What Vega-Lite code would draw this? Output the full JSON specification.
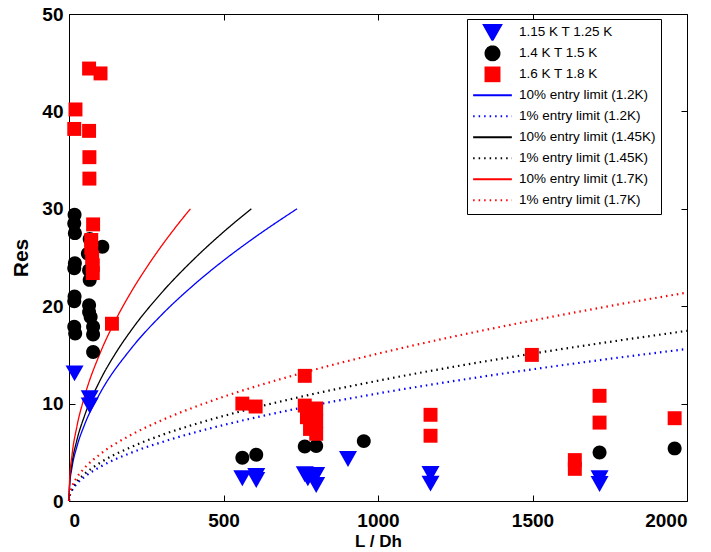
{
  "$schema": "https://vega.github.io/schema/vega-lite/v6.json",
  "width": 618,
  "height": 487,
  "autosize": "none",
  "padding": {"left": 69, "top": 14, "right": 24, "bottom": 51},
  "background": "white",
  "config": {
    "view": {"stroke": "black", "strokeWidth": 1},
    "axis": {
      "domain": false, "grid": false, "tickColor": "black", "tickSize": -6, "tickWidth": 1,
      "labelFont": "Liberation Sans", "labelFontWeight": "bold", "labelFontSize": 19, "labelColor": "black",
      "titleFont": "Liberation Sans", "titleFontWeight": "bold", "titleColor": "black"
    }
  },
  "datasets": {
    "pts": [
      {"series": "1.15 K T 1.25 K", "L": 18, "Res": 13.1},
      {"series": "1.15 K T 1.25 K", "L": 67, "Res": 10.55},
      {"series": "1.15 K T 1.25 K", "L": 67, "Res": 9.8},
      {"series": "1.15 K T 1.25 K", "L": 561, "Res": 2.33},
      {"series": "1.15 K T 1.25 K", "L": 606, "Res": 2.57},
      {"series": "1.15 K T 1.25 K", "L": 606, "Res": 2.16},
      {"series": "1.15 K T 1.25 K", "L": 763, "Res": 2.74},
      {"series": "1.15 K T 1.25 K", "L": 773, "Res": 2.33},
      {"series": "1.15 K T 1.25 K", "L": 800, "Res": 2.67},
      {"series": "1.15 K T 1.25 K", "L": 800, "Res": 1.64},
      {"series": "1.15 K T 1.25 K", "L": 903, "Res": 4.31},
      {"series": "1.15 K T 1.25 K", "L": 1170, "Res": 2.77},
      {"series": "1.15 K T 1.25 K", "L": 1170, "Res": 1.78},
      {"series": "1.15 K T 1.25 K", "L": 1717, "Res": 2.33},
      {"series": "1.15 K T 1.25 K", "L": 1717, "Res": 1.75},
      {"series": "1.4 K T 1.5 K", "L": 18, "Res": 29.4},
      {"series": "1.4 K T 1.5 K", "L": 17, "Res": 28.5},
      {"series": "1.4 K T 1.5 K", "L": 19, "Res": 27.5},
      {"series": "1.4 K T 1.5 K", "L": 19, "Res": 24.4},
      {"series": "1.4 K T 1.5 K", "L": 17, "Res": 23.9},
      {"series": "1.4 K T 1.5 K", "L": 18, "Res": 21.0},
      {"series": "1.4 K T 1.5 K", "L": 17, "Res": 20.5},
      {"series": "1.4 K T 1.5 K", "L": 17, "Res": 17.9},
      {"series": "1.4 K T 1.5 K", "L": 20, "Res": 17.2},
      {"series": "1.4 K T 1.5 K", "L": 67, "Res": 26.9},
      {"series": "1.4 K T 1.5 K", "L": 108, "Res": 26.1},
      {"series": "1.4 K T 1.5 K", "L": 61, "Res": 25.4},
      {"series": "1.4 K T 1.5 K", "L": 65, "Res": 23.7},
      {"series": "1.4 K T 1.5 K", "L": 67, "Res": 22.7},
      {"series": "1.4 K T 1.5 K", "L": 65, "Res": 20.1},
      {"series": "1.4 K T 1.5 K", "L": 65, "Res": 19.4},
      {"series": "1.4 K T 1.5 K", "L": 70, "Res": 18.9},
      {"series": "1.4 K T 1.5 K", "L": 78, "Res": 17.9},
      {"series": "1.4 K T 1.5 K", "L": 78, "Res": 17.1},
      {"series": "1.4 K T 1.5 K", "L": 78, "Res": 15.3},
      {"series": "1.4 K T 1.5 K", "L": 561, "Res": 4.45},
      {"series": "1.4 K T 1.5 K", "L": 606, "Res": 4.75},
      {"series": "1.4 K T 1.5 K", "L": 763, "Res": 5.6},
      {"series": "1.4 K T 1.5 K", "L": 800, "Res": 5.65},
      {"series": "1.4 K T 1.5 K", "L": 954, "Res": 6.15},
      {"series": "1.4 K T 1.5 K", "L": 1717, "Res": 4.97},
      {"series": "1.4 K T 1.5 K", "L": 1960, "Res": 5.4},
      {"series": "1.6 K T 1.8 K", "L": 65, "Res": 44.4},
      {"series": "1.6 K T 1.8 K", "L": 102, "Res": 43.9},
      {"series": "1.6 K T 1.8 K", "L": 21, "Res": 40.2},
      {"series": "1.6 K T 1.8 K", "L": 17, "Res": 38.2},
      {"series": "1.6 K T 1.8 K", "L": 65, "Res": 38.0},
      {"series": "1.6 K T 1.8 K", "L": 66, "Res": 35.3},
      {"series": "1.6 K T 1.8 K", "L": 66, "Res": 33.1},
      {"series": "1.6 K T 1.8 K", "L": 78, "Res": 28.4},
      {"series": "1.6 K T 1.8 K", "L": 72, "Res": 26.8},
      {"series": "1.6 K T 1.8 K", "L": 72, "Res": 26.0},
      {"series": "1.6 K T 1.8 K", "L": 75, "Res": 25.0},
      {"series": "1.6 K T 1.8 K", "L": 77, "Res": 24.2},
      {"series": "1.6 K T 1.8 K", "L": 77, "Res": 23.4},
      {"series": "1.6 K T 1.8 K", "L": 139, "Res": 18.2},
      {"series": "1.6 K T 1.8 K", "L": 561, "Res": 10.0},
      {"series": "1.6 K T 1.8 K", "L": 604, "Res": 9.7},
      {"series": "1.6 K T 1.8 K", "L": 763, "Res": 12.85},
      {"series": "1.6 K T 1.8 K", "L": 763, "Res": 9.8},
      {"series": "1.6 K T 1.8 K", "L": 800, "Res": 9.5},
      {"series": "1.6 K T 1.8 K", "L": 770, "Res": 8.6},
      {"series": "1.6 K T 1.8 K", "L": 800, "Res": 8.2},
      {"series": "1.6 K T 1.8 K", "L": 780, "Res": 7.4},
      {"series": "1.6 K T 1.8 K", "L": 800, "Res": 6.9},
      {"series": "1.6 K T 1.8 K", "L": 1170, "Res": 8.85},
      {"series": "1.6 K T 1.8 K", "L": 1170, "Res": 6.7},
      {"series": "1.6 K T 1.8 K", "L": 1498, "Res": 15.0},
      {"series": "1.6 K T 1.8 K", "L": 1637, "Res": 4.2},
      {"series": "1.6 K T 1.8 K", "L": 1637, "Res": 3.3},
      {"series": "1.6 K T 1.8 K", "L": 1717, "Res": 10.8},
      {"series": "1.6 K T 1.8 K", "L": 1717, "Res": 8.05},
      {"series": "1.6 K T 1.8 K", "L": 1960, "Res": 8.5}
    ],
    "solid": [
      {"series": "10% entry limit (1.2K)", "L": 0, "Res": 0},
      {"series": "10% entry limit (1.2K)", "L": 2, "Res": 1.56},
      {"series": "10% entry limit (1.2K)", "L": 10, "Res": 3.49},
      {"series": "10% entry limit (1.2K)", "L": 25, "Res": 5.52},
      {"series": "10% entry limit (1.2K)", "L": 50, "Res": 7.81},
      {"series": "10% entry limit (1.2K)", "L": 100, "Res": 11.04},
      {"series": "10% entry limit (1.2K)", "L": 200, "Res": 15.61},
      {"series": "10% entry limit (1.2K)", "L": 300, "Res": 19.12},
      {"series": "10% entry limit (1.2K)", "L": 400, "Res": 22.08},
      {"series": "10% entry limit (1.2K)", "L": 500, "Res": 24.69},
      {"series": "10% entry limit (1.2K)", "L": 600, "Res": 27.04},
      {"series": "10% entry limit (1.2K)", "L": 738, "Res": 30.0},
      {"series": "10% entry limit (1.45K)", "L": 0, "Res": 0},
      {"series": "10% entry limit (1.45K)", "L": 2, "Res": 1.75},
      {"series": "10% entry limit (1.45K)", "L": 10, "Res": 3.91},
      {"series": "10% entry limit (1.45K)", "L": 25, "Res": 6.18},
      {"series": "10% entry limit (1.45K)", "L": 50, "Res": 8.73},
      {"series": "10% entry limit (1.45K)", "L": 100, "Res": 12.35},
      {"series": "10% entry limit (1.45K)", "L": 150, "Res": 15.13},
      {"series": "10% entry limit (1.45K)", "L": 200, "Res": 17.47},
      {"series": "10% entry limit (1.45K)", "L": 300, "Res": 21.39},
      {"series": "10% entry limit (1.45K)", "L": 400, "Res": 24.7},
      {"series": "10% entry limit (1.45K)", "L": 500, "Res": 27.62},
      {"series": "10% entry limit (1.45K)", "L": 590, "Res": 30.0},
      {"series": "10% entry limit (1.7K)", "L": 0, "Res": 0},
      {"series": "10% entry limit (1.7K)", "L": 2, "Res": 2.14},
      {"series": "10% entry limit (1.7K)", "L": 10, "Res": 4.78},
      {"series": "10% entry limit (1.7K)", "L": 25, "Res": 7.57},
      {"series": "10% entry limit (1.7K)", "L": 50, "Res": 10.7},
      {"series": "10% entry limit (1.7K)", "L": 100, "Res": 15.13},
      {"series": "10% entry limit (1.7K)", "L": 150, "Res": 18.53},
      {"series": "10% entry limit (1.7K)", "L": 200, "Res": 21.4},
      {"series": "10% entry limit (1.7K)", "L": 250, "Res": 23.92},
      {"series": "10% entry limit (1.7K)", "L": 300, "Res": 26.21},
      {"series": "10% entry limit (1.7K)", "L": 350, "Res": 28.31},
      {"series": "10% entry limit (1.7K)", "L": 393, "Res": 30.0}
    ],
    "dotted": [
      {"series": "1% entry limit (1.2K)", "L": 0, "Res": 0},
      {"series": "1% entry limit (1.2K)", "L": 2, "Res": 0.49},
      {"series": "1% entry limit (1.2K)", "L": 10, "Res": 1.1},
      {"series": "1% entry limit (1.2K)", "L": 25, "Res": 1.75},
      {"series": "1% entry limit (1.2K)", "L": 50, "Res": 2.47},
      {"series": "1% entry limit (1.2K)", "L": 100, "Res": 3.49},
      {"series": "1% entry limit (1.2K)", "L": 200, "Res": 4.94},
      {"series": "1% entry limit (1.2K)", "L": 300, "Res": 6.04},
      {"series": "1% entry limit (1.2K)", "L": 400, "Res": 6.98},
      {"series": "1% entry limit (1.2K)", "L": 500, "Res": 7.8},
      {"series": "1% entry limit (1.2K)", "L": 750, "Res": 9.56},
      {"series": "1% entry limit (1.2K)", "L": 1000, "Res": 11.04},
      {"series": "1% entry limit (1.2K)", "L": 1250, "Res": 12.34},
      {"series": "1% entry limit (1.2K)", "L": 1500, "Res": 13.52},
      {"series": "1% entry limit (1.2K)", "L": 1750, "Res": 14.6},
      {"series": "1% entry limit (1.2K)", "L": 2000, "Res": 15.61},
      {"series": "1% entry limit (1.45K)", "L": 0, "Res": 0},
      {"series": "1% entry limit (1.45K)", "L": 2, "Res": 0.55},
      {"series": "1% entry limit (1.45K)", "L": 10, "Res": 1.24},
      {"series": "1% entry limit (1.45K)", "L": 25, "Res": 1.95},
      {"series": "1% entry limit (1.45K)", "L": 50, "Res": 2.76},
      {"series": "1% entry limit (1.45K)", "L": 100, "Res": 3.91},
      {"series": "1% entry limit (1.45K)", "L": 200, "Res": 5.52},
      {"series": "1% entry limit (1.45K)", "L": 300, "Res": 6.77},
      {"series": "1% entry limit (1.45K)", "L": 400, "Res": 7.81},
      {"series": "1% entry limit (1.45K)", "L": 500, "Res": 8.73},
      {"series": "1% entry limit (1.45K)", "L": 750, "Res": 10.7},
      {"series": "1% entry limit (1.45K)", "L": 1000, "Res": 12.35},
      {"series": "1% entry limit (1.45K)", "L": 1250, "Res": 13.81},
      {"series": "1% entry limit (1.45K)", "L": 1500, "Res": 15.13},
      {"series": "1% entry limit (1.45K)", "L": 1750, "Res": 16.34},
      {"series": "1% entry limit (1.45K)", "L": 2000, "Res": 17.47},
      {"series": "1% entry limit (1.7K)", "L": 0, "Res": 0},
      {"series": "1% entry limit (1.7K)", "L": 2, "Res": 0.68},
      {"series": "1% entry limit (1.7K)", "L": 10, "Res": 1.51},
      {"series": "1% entry limit (1.7K)", "L": 25, "Res": 2.39},
      {"series": "1% entry limit (1.7K)", "L": 50, "Res": 3.38},
      {"series": "1% entry limit (1.7K)", "L": 100, "Res": 4.79},
      {"series": "1% entry limit (1.7K)", "L": 200, "Res": 6.77},
      {"series": "1% entry limit (1.7K)", "L": 300, "Res": 8.29},
      {"series": "1% entry limit (1.7K)", "L": 400, "Res": 9.57},
      {"series": "1% entry limit (1.7K)", "L": 500, "Res": 10.7},
      {"series": "1% entry limit (1.7K)", "L": 750, "Res": 13.1},
      {"series": "1% entry limit (1.7K)", "L": 1000, "Res": 15.13},
      {"series": "1% entry limit (1.7K)", "L": 1250, "Res": 16.92},
      {"series": "1% entry limit (1.7K)", "L": 1500, "Res": 18.53},
      {"series": "1% entry limit (1.7K)", "L": 1750, "Res": 20.02},
      {"series": "1% entry limit (1.7K)", "L": 2000, "Res": 21.4}
    ]
  },
  "resolve": {"axis": {"x": "independent", "y": "independent"}},
  "layer": [
    {
      "data": {"name": "solid"},
      "mark": {"type": "line", "strokeWidth": 1.3, "interpolate": "monotone"},
      "encoding": {
        "x": {"field": "L", "type": "quantitative", "scale": {"domain": [0, 2000], "nice": false},
              "axis": {"orient": "top", "labels": false, "title": null, "values": [0, 500, 1000, 1500, 2000]}},
        "y": {"field": "Res", "type": "quantitative", "scale": {"domain": [0, 50], "nice": false},
              "axis": {"orient": "right", "labels": false, "title": null, "values": [0, 10, 20, 30, 40, 50]}},
        "detail": {"field": "series"},
        "color": {"field": "series", "type": "nominal",
          "scale": {"domain": ["1.15 K T 1.25 K", "1.4 K T 1.5 K", "1.6 K T 1.8 K", "10% entry limit (1.2K)", "1% entry limit (1.2K)", "10% entry limit (1.45K)", "1% entry limit (1.45K)", "10% entry limit (1.7K)", "1% entry limit (1.7K)"],
                    "range": ["#0000ff", "#000000", "#ff0000", "#0000ff", "#0000ff", "#000000", "#000000", "#ff0000", "#ff0000"]},
          "legend": {"title": null, "orient": "none", "legendX": 398, "legendY": 5, "padding": 5, "strokeColor": "black", "fillColor": "white", "cornerRadius": 0,
                     "labelFont": "Liberation Sans", "labelFontSize": 13.5, "labelColor": "black", "labelOffset": 6, "rowPadding": 4, "symbolSize": 1500, "labelLimit": 300, "clipHeight": 16.7,
                     "symbolStrokeWidth": 2, "symbolOpacity": 1, "encode": {"legend": {"update": {"width": {"value": 204}}}}}},
        "strokeDash": {"field": "series", "type": "nominal",
          "scale": {"domain": ["1.15 K T 1.25 K", "1.4 K T 1.5 K", "1.6 K T 1.8 K", "10% entry limit (1.2K)", "1% entry limit (1.2K)", "10% entry limit (1.45K)", "1% entry limit (1.45K)", "10% entry limit (1.7K)", "1% entry limit (1.7K)"],
                    "range": [[1, 0], [1, 0], [1, 0], [1, 0], [1.5, 4], [1, 0], [1.5, 4], [1, 0], [1.5, 4]]},
          "legend": {"title": null, "orient": "none", "legendX": 398, "legendY": 5, "padding": 5, "strokeColor": "black", "fillColor": "white", "cornerRadius": 0,
                     "labelFont": "Liberation Sans", "labelFontSize": 13.5, "labelColor": "black", "labelOffset": 6, "rowPadding": 4, "symbolSize": 1500, "labelLimit": 300, "clipHeight": 16.7,
                     "symbolStrokeWidth": 2, "symbolOpacity": 1, "encode": {"legend": {"update": {"width": {"value": 204}}}}}}
      }
    },
    {
      "data": {"name": "dotted"},
      "mark": {"type": "line", "strokeWidth": 2.2, "interpolate": "monotone"},
      "encoding": {
        "x": {"field": "L", "type": "quantitative", "axis": null},
        "y": {"field": "Res", "type": "quantitative", "axis": null},
        "detail": {"field": "series"},
        "color": {"field": "series", "type": "nominal"},
        "strokeDash": {"field": "series", "type": "nominal"}
      }
    },
    {
      "data": {"name": "pts"},
      "mark": {"type": "point", "filled": true, "opacity": 1, "size": 1500, "strokeWidth": 0.5},
      "encoding": {
        "x": {"field": "L", "type": "quantitative", "title": "L / Dh",
              "axis": {"orient": "bottom", "values": [0, 500, 1000, 1500, 2000], "format": "d", "labelPadding": 16, "titleFontSize": 17, "titlePadding": 3}},
        "y": {"field": "Res", "type": "quantitative", "title": "Res",
              "axis": {"orient": "left", "values": [0, 10, 20, 30, 40, 50], "labelPadding": 12, "titleFontSize": 21, "titlePadding": 10}},
        "color": {"field": "series", "type": "nominal"},
        "shape": {"field": "series", "type": "nominal",
          "scale": {"domain": ["1.15 K T 1.25 K", "1.4 K T 1.5 K", "1.6 K T 1.8 K", "10% entry limit (1.2K)", "1% entry limit (1.2K)", "10% entry limit (1.45K)", "1% entry limit (1.45K)", "10% entry limit (1.7K)", "1% entry limit (1.7K)"],
                    "range": ["M-0.465,-0.41L0.465,-0.41L0,0.41Z", "M0.36,0A0.36,0.36,0,1,1,-0.36,0A0.36,0.36,0,1,1,0.36,0Z", "M-0.36,-0.36H0.36V0.36H-0.36Z", "stroke", "stroke", "stroke", "stroke", "stroke", "stroke"]},
          "legend": {"title": null, "orient": "none", "legendX": 398, "legendY": 5, "padding": 5, "strokeColor": "black", "fillColor": "white", "cornerRadius": 0,
                     "labelFont": "Liberation Sans", "labelFontSize": 13.5, "labelColor": "black", "labelOffset": 6, "rowPadding": 4, "symbolSize": 1500, "labelLimit": 300, "clipHeight": 16.7,
                     "symbolStrokeWidth": 2, "symbolOpacity": 1, "encode": {"legend": {"update": {"width": {"value": 204}}}}}}
      }
    }
  ]
}
